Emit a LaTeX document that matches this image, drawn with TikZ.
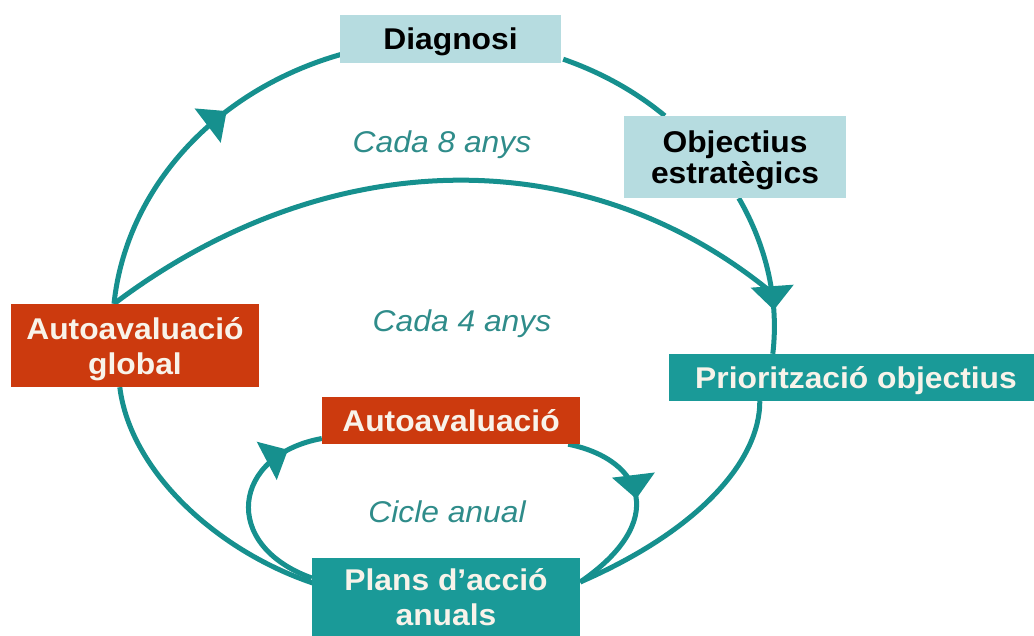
\documentclass[tikz,border=0pt]{standalone}
\usepackage{fontspec}
\setmainfont{Liberation Sans}[FakeStretch=1.06]
\usetikzlibrary{arrows.meta,decorations.markings,calc}
\definecolor{cLine}{HTML}{16908E}
\definecolor{cTeal}{HTML}{1A9A98}
\definecolor{cRed}{HTML}{CC3A0E}
\definecolor{cLight}{HTML}{B6DCE0}
\definecolor{cWhite}{HTML}{F8F3EA}
\definecolor{cItal}{HTML}{2F8C8A}
\pgfdeclarelayer{bg}
\pgfsetlayers{bg,main}
\tikzset{
  box/.style={inner sep=0pt, align=center, text depth=0pt, font=\bfseries\fontsize{30}{35}\selectfont},
  lightbox/.style={box, fill=cLight, text=black},
  redbox/.style={box, fill=cRed, text=cWhite},
  tealbox/.style={box, fill=cTeal, text=cWhite},
  period/.style={font=\itshape\fontsize{30}{34}\selectfont, text=cItal},
  flow/.style={draw=cLine, line width=5pt},
  arrowat/.style={postaction={decorate}, decoration={markings,
      mark=at position #1 with {\arrow[cLine]{Triangle[length=24pt,width=42pt]}}}}
}
\begin{document}
\begin{tikzpicture}[x=1pt,y=-1pt]
\useasboundingbox (0,0) rectangle (1034,636);
% boxes
\node[lightbox, minimum width=221pt, minimum height=48pt] (diag) at (450.5,39) {Diagnosi};
\node[lightbox, minimum width=222pt, minimum height=82pt, font=\bfseries\fontsize{30}{31}\selectfont] (obj) at (735,157) {Objectius\\estratègics};
\node[tealbox, minimum width=365pt, minimum height=47pt] (prio) at (851.5,377.5) {\hspace{9pt}Priorització objectius};
\node[redbox, minimum width=248pt, minimum height=83pt] (glob) at (135,345.5) {Autoavaluació\\global};
\node[redbox, minimum width=258pt, minimum height=47pt] (auto) at (451,420.5) {Autoavaluació};
\node[tealbox, minimum width=268pt, minimum height=78pt] (plans) at (446,597) {Plans d’acció\\anuals};
% period labels
\node[period] (l8) at (442,145) {Cada 8 anys};
\node[period] (l4) at (462,324) {Cada 4 anys};
\node[period] (l1) at (447,512) {Cicle anual};
\coordinate (join) at (771,292);
% connectors
\begin{pgfonlayer}{bg}
\draw[flow] ($(glob.north)+(-21,0)$) .. controls (330,141) and (587,141) .. (join);
\draw[flow, arrowat=0.64] ($(glob.north)+(-21,0)$) .. controls (126,189) and (215,90) .. ($(diag.south west)+(2,-9)$);
\draw[flow] ($(diag.south east)+(2,-4)$) .. controls (600,72) and (635,91) .. ($(obj.north west)+(41,0)$);
\draw[flow, arrowat=0.73] ($(obj.south west)+(115,0)$) .. controls (767,247) and (779,301) .. ($(prio.north west)+(104,0)$);
\draw[flow] ($(prio.south west)+(91,0)$) .. controls (760,460) and (700,530) .. ($(plans.east)+(0,-15)$);
\draw[flow] ($(plans.west)+(1,-14)$) .. controls (215,550) and (130,470) .. ($(glob.south west)+(109,0)$);
\draw[flow, arrowat=0.83] ($(plans.west)+(0,-19)$) .. controls (220,545) and (232,455) .. ($(auto.west)+(0,18)$);
\draw[flow, arrowat=0.47] ($(auto.south east)+(-12,0)$) .. controls (645,460) and (668,522) .. ($(plans.east)+(0,-15)$);
\end{pgfonlayer}
\end{tikzpicture}
\end{document}
